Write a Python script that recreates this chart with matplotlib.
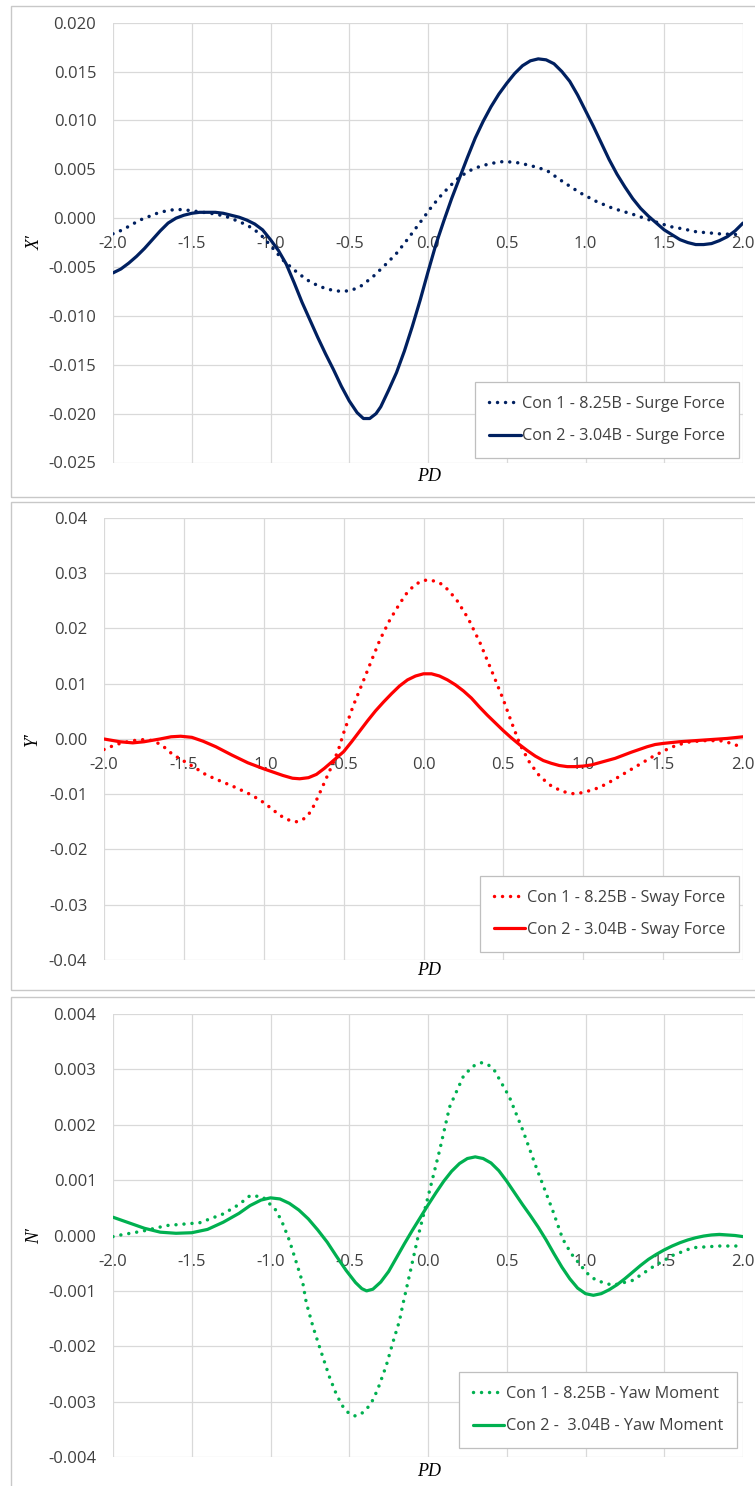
import matplotlib
matplotlib.use("Agg")
import matplotlib.pyplot as plt
from matplotlib.patches import Rectangle
from matplotlib.ticker import FormatStrFormatter

plt.rcParams['font.family'] = ['Open Sans', 'DejaVu Sans']

# ---- data ----
surge1_x = [-2.0, -1.94, -1.83, -1.72, -1.65, -1.59, -1.52, -1.45, -1.34, -1.27, -1.2, -1.15, -1.1,
            -1.05, -1.0, -0.92, -0.85, -0.77, -0.7, -0.65, -0.6, -0.546, -0.49, -0.43, -0.35, -0.26,
            -0.2, -0.146, -0.09, -0.03, 0.02, 0.076, 0.14, 0.203, 0.27, 0.33, 0.4, 0.48, 0.56,
            0.648, 0.753, 0.859, 0.965, 1.07, 1.175, 1.3, 1.41, 1.537, 1.62, 1.705, 1.78, 1.85,
            1.93, 2.0]
surge1_y = [-0.0016, -0.0012, -0.0002, 0.0005, 0.0008, 0.0009, 0.0008, 0.00065, 0.0004, 0.0001,
            -0.00035, -0.0007, -0.0012, -0.0019, -0.0028, -0.0043, -0.0053, -0.0063, -0.0069,
            -0.0072, -0.0074, -0.0075, -0.0074, -0.0070, -0.0060, -0.0046, -0.0036, -0.0025,
            -0.0013, 0.0, 0.0011, 0.0022, 0.0033, 0.00425, 0.0049, 0.0053, 0.0056, 0.0058, 0.0057,
            0.0054, 0.0049, 0.0037, 0.0026, 0.0017, 0.0010, 0.0004, -0.0002, -0.00086, -0.0011,
            -0.0014, -0.0015, -0.0016, -0.00165, -0.0017]
surge2_x = [-2.0, -1.95, -1.9, -1.85, -1.8, -1.75, -1.7, -1.65, -1.6, -1.55, -1.5, -1.45, -1.4, -1.35,
            -1.3, -1.25, -1.2, -1.15, -1.1, -1.05, -1.0, -0.95, -0.9, -0.85, -0.8, -0.75, -0.7,
            -0.65, -0.6, -0.55, -0.5, -0.45, -0.41, -0.37, -0.33, -0.3, -0.25, -0.2, -0.15, -0.1,
            -0.05, 0.0, 0.05, 0.1, 0.15, 0.2, 0.25, 0.3, 0.35, 0.4, 0.45, 0.5, 0.55, 0.6, 0.65, 0.7,
            0.75, 0.8, 0.85, 0.9, 0.95, 1.0, 1.05, 1.1, 1.15, 1.2, 1.25, 1.3, 1.35, 1.4, 1.45, 1.5,
            1.55, 1.6, 1.65, 1.7, 1.75, 1.8, 1.85, 1.9, 1.95, 2.0]
surge2_y = [-0.0056, -0.0052, -0.0046, -0.0039, -0.0031, -0.0022, -0.0013, -0.0005, 0.0, 0.0003,
            0.0005, 0.0006, 0.0006, 0.0006, 0.0005, 0.0003, 0.0001, -0.0002, -0.0006, -0.0012,
            -0.0022, -0.0033, -0.0047, -0.0066, -0.0086, -0.0104, -0.0122, -0.0139, -0.0155,
            -0.0172, -0.0187, -0.0199, -0.0205, -0.0205, -0.0200, -0.0193, -0.0176, -0.0158,
            -0.0136, -0.0111, -0.0084, -0.0055, -0.0027, -0.0003, 0.0020, 0.0041, 0.0062, 0.0082,
            0.0099, 0.0114, 0.0127, 0.0138, 0.0148, 0.0156, 0.0161, 0.0163, 0.0162, 0.0158, 0.0150,
            0.0140, 0.0126, 0.0110, 0.0094, 0.0077, 0.0060, 0.0045, 0.0032, 0.0020, 0.0010, 0.0002,
            -0.0005, -0.0012, -0.0017, -0.0022, -0.0025, -0.0027, -0.0027, -0.0026, -0.0023,
            -0.0019, -0.0013, -0.0005]

sway1_x = [-2.0, -1.95, -1.9, -1.82, -1.75, -1.69, -1.63, -1.57, -1.5, -1.43, -1.36, -1.28, -1.19,
           -1.1, -1.025, -0.96, -0.9, -0.85, -0.8, -0.76, -0.72, -0.685, -0.65, -0.61, -0.565,
           -0.53, -0.5, -0.44, -0.374, -0.32, -0.272, -0.21, -0.147, -0.1, -0.05, 0.0, 0.04, 0.1,
           0.15, 0.207, 0.28, 0.354, 0.43, 0.5, 0.55, 0.604, 0.665, 0.729, 0.8, 0.87, 0.938, 1.0,
           1.1, 1.19, 1.3, 1.44, 1.55, 1.646, 1.75, 1.856, 1.93, 2.0]
sway1_y = [-0.0019, -0.0013, -0.0008, -0.0003, -0.0001, -0.0003, -0.0013, -0.0028, -0.0040,
           -0.0052, -0.0065, -0.0075, -0.0086, -0.0098, -0.0110, -0.0124, -0.0138, -0.0146,
           -0.0150, -0.0147, -0.0137, -0.0120, -0.0098, -0.0072, -0.0043, -0.0017, 0.0011, 0.0060,
           0.0107, 0.0146, 0.0180, 0.0216, 0.0246, 0.0266, 0.0280, 0.0287, 0.0288, 0.0283, 0.0271,
           0.0252, 0.0218, 0.0174, 0.0121, 0.0071, 0.0031, -0.0010, -0.0043, -0.0068, -0.0085,
           -0.0095, -0.0099, -0.0097, -0.0088, -0.0074, -0.0055, -0.0031, -0.0015, -0.0006,
           -0.0003, -0.0003, -0.0008, -0.0016]
sway2_x = [-2.0, -1.9, -1.82, -1.75, -1.65, -1.58, -1.52, -1.45, -1.38, -1.3, -1.2, -1.1, -1.0,
           -0.94, -0.88, -0.82, -0.775, -0.72, -0.67, -0.62, -0.56, -0.5, -0.45, -0.4, -0.35, -0.3,
           -0.25, -0.2, -0.15, -0.1, -0.05, 0.0, 0.05, 0.1, 0.15, 0.2, 0.25, 0.3, 0.35, 0.4, 0.45,
           0.5, 0.55, 0.6, 0.65, 0.7, 0.75, 0.8, 0.85, 0.9, 0.95, 1.0, 1.05, 1.1, 1.15, 1.2, 1.3,
           1.4, 1.45, 1.5, 1.6, 1.7, 1.8, 1.9, 2.0]
sway2_y = [0.0, -0.0005, -0.0007, -0.0005, 0.0, 0.0004, 0.0005, 0.0003, -0.0004, -0.0014, -0.0029,
           -0.0043, -0.0054, -0.0060, -0.0066, -0.0071, -0.0072, -0.0070, -0.0064, -0.0053,
           -0.0038, -0.0023, -0.0005, 0.0014, 0.0033, 0.0051, 0.0067, 0.0082, 0.0096, 0.0107,
           0.0114, 0.0118, 0.0118, 0.0114, 0.0107, 0.0098, 0.0087, 0.0074, 0.0058, 0.0043, 0.0029,
           0.0015, 0.0002, -0.0010, -0.0021, -0.0031, -0.0039, -0.0044, -0.0048, -0.0050, -0.0050,
           -0.0049, -0.0047, -0.0043, -0.0039, -0.0035, -0.0024, -0.0014, -0.0010, -0.0008,
           -0.0005, -0.0003, -0.0001, 0.0001, 0.0004]

yaw1_x = [-2.0, -1.97, -1.81, -1.66, -1.45, -1.3, -1.2, -1.13, -1.05, -0.963, -0.92, -0.88, -0.84,
          -0.794, -0.773, -0.73, -0.688, -0.625, -0.58, -0.54, -0.5, -0.46, -0.42, -0.388, -0.35,
          -0.318, -0.265, -0.223, -0.181, -0.16, -0.11, -0.064, 0.01, 0.074, 0.137, 0.222, 0.28,
          0.338, 0.38, 0.422, 0.517, 0.602, 0.686, 0.792, 0.855, 0.91, 0.961, 1.01, 1.067, 1.173,
          1.3, 1.426, 1.553, 1.68, 1.85, 1.976]
yaw1_y = [-0.00002, 0.0, 0.00008, 0.00018, 0.00023, 0.00039, 0.00056, 0.00072, 0.0007, 0.00045,
          0.0002, -0.00009, -0.00045, -0.00087, -0.00121, -0.00165, -0.00202, -0.00256, -0.00288,
          -0.00309, -0.00322, -0.00326, -0.00321, -0.00313, -0.00297, -0.00277, -0.00235,
          -0.00193, -0.00154, -0.00125, -0.00062, -0.00003, 0.00081, 0.00154, 0.00232, 0.00286,
          0.00305, 0.00312, 0.00309, 0.00298, 0.0025, 0.0019, 0.00124, 0.00045, -0.00006,
          -0.00033, -0.00051, -0.00068, -0.00081, -0.0009, -0.00081, -0.00057, -0.00036,
          -0.00022, -0.00019, -0.00019]
yaw2_x = [-2.0, -1.9, -1.8, -1.7, -1.6, -1.5, -1.4, -1.3, -1.2, -1.13, -1.06, -1.0, -0.94, -0.88,
          -0.82, -0.76, -0.7, -0.64, -0.58, -0.52, -0.46, -0.42, -0.39, -0.35, -0.3, -0.25, -0.2,
          -0.15, -0.1, -0.05, 0.0, 0.05, 0.1, 0.15, 0.2, 0.25, 0.3, 0.35, 0.4, 0.45, 0.5, 0.55, 0.6,
          0.65, 0.7, 0.75, 0.8, 0.85, 0.9, 0.95, 1.0, 1.05, 1.1, 1.15, 1.2, 1.25, 1.3, 1.35, 1.4,
          1.45, 1.5, 1.55, 1.6, 1.65, 1.7, 1.75, 1.8, 1.85, 1.9, 1.95, 2.0]
yaw2_y = [0.00033, 0.00023, 0.00013, 0.00006, 0.00004, 0.00005, 0.00011, 0.00024, 0.0004, 0.00054,
          0.00064, 0.00068, 0.00066, 0.00058, 0.00046, 0.0003, 0.0001, -0.00012, -0.00038,
          -0.00063, -0.00085, -0.00096, -0.001, -0.00097, -0.00084, -0.00065, -0.0004, -0.00015,
          0.00009, 0.00032, 0.00055, 0.00077, 0.00098, 0.00116, 0.0013, 0.00139, 0.00142, 0.00139,
          0.00131, 0.00117, 0.00098, 0.00077, 0.00056, 0.00036, 0.00015, -0.00008, -0.00033,
          -0.00057, -0.00078, -0.00095, -0.00105, -0.00108, -0.00105, -0.00098, -0.00089,
          -0.00078, -0.00066, -0.00054, -0.00043, -0.00034, -0.00026, -0.00019, -0.00013,
          -0.00008, -0.00004, -0.00001, 0.00001, 0.00002, 0.00001, 0.0, -0.00002]

x_ticks = [-2.0, -1.5, -1.0, -0.5, 0.0, 0.5, 1.0, 1.5, 2.0]

W, H = 755, 1486
fig = plt.figure(figsize=(W / 100, H / 100), dpi=100)


def px_rect(x0, y0, x1, y1):
    # pixel box (top-left origin) -> figure fraction [l, b, w, h]
    return [x0 / W, 1 - y1 / H, (x1 - x0) / W, (y1 - y0) / H]


# chart area frames
for y0, y1 in [(6, 497), (502, 990), (997, 1490)]:
    l, b, w, h = px_rect(11, y0, 760, y1)
    fig.add_artist(Rectangle((l, b), w, h, transform=fig.transFigure, fill=False,
                             edgecolor='#c8c8c8', lw=1.0))

panels = [
    dict(box=(113, 22.7, 743, 462.5), ylim=(-0.025, 0.020), step=0.005, fmt='%.3f', ylab="X\u2032",
         color='#002060', series=[(surge1_x, surge1_y, ':'), (surge2_x, surge2_y, '-')],
         labels=['Con 1 - 8.25B - Surge Force', 'Con 2 - 3.04B - Surge Force'],
         leg=(472, 383, 739, 458)),
    dict(box=(104, 518, 743, 960), ylim=(-0.04, 0.04), step=0.01, fmt='%.2f', ylab="Y\u2032",
         color='#ff0000', series=[(sway1_x, sway1_y, ':'), (sway2_x, sway2_y, '-')],
         labels=['Con 1 - 8.25B - Sway Force', 'Con 2 - 3.04B - Sway Force'],
         leg=(472, 877, 739, 952)),
    dict(box=(113, 1014, 743, 1457), ylim=(-0.004, 0.004), step=0.001, fmt='%.3f', ylab="N\u2032",
         color='#00b050', series=[(yaw1_x, yaw1_y, ':'), (yaw2_x, yaw2_y, '-')],
         labels=['Con 1 - 8.25B - Yaw Moment', 'Con 2 -  3.04B - Yaw Moment'],
         leg=(469, 1368, 737, 1448)),
]

for p in panels:
    x0, y0, x1, y1 = p['box']
    ax = fig.add_axes(px_rect(x0, y0, x1, y1))
    lo, hi = p['ylim']
    n = int(round((hi - lo) / p['step']))
    ax.set_xlim(-2.0, 2.0)
    ax.set_ylim(lo, hi)
    ax.set_xticks(x_ticks)
    ax.set_yticks([lo + i * p['step'] for i in range(n + 1)])
    ax.yaxis.set_major_formatter(FormatStrFormatter(p['fmt']))
    ax.xaxis.set_major_formatter(FormatStrFormatter('%.1f'))
    ax.grid(True, color='#d9d9d9', lw=0.9)
    ax.set_axisbelow(True)
    for s in ax.spines.values():
        s.set_visible(False)
    ax.spines['bottom'].set_position(('data', 0))
    ax.tick_params(axis='both', length=0, labelsize=12, labelcolor='#404040')
    ax.tick_params(axis='x', pad=13)
    ax.tick_params(axis='y', pad=12)

    handles = []
    for (xs, ys, ls) in p['series']:
        if ls == ':':
            h, = ax.plot(xs, ys, color=p['color'], lw=2.5, linestyle=(0, (0.01, 2.3)),
                         dash_capstyle='round')
        else:
            h, = ax.plot(xs, ys, color=p['color'], lw=2.3, solid_capstyle='round',
                         solid_joinstyle='round')
        handles.append(h)

    ax.text(-0.124 if x0 > 110 else -0.112, 0.5, p['ylab'], transform=ax.transAxes, rotation=90,
            ha='center', va='center', fontsize=13, style='italic', family='Liberation Serif')
    ax.text((429 - x0) / (x1 - x0), -(14 if x0 > 110 else 11) / (y1 - y0), 'PD',
            transform=ax.transAxes, ha='center', va='center', fontsize=13, style='italic',
            family='Liberation Serif')

    lx0, ly0, lx1, ly1 = p['leg']
    leg = ax.legend(handles, p['labels'], loc='lower right',
                    bbox_to_anchor=((lx1 - x0) / (x1 - x0), (y1 - ly1) / (y1 - y0)),
                    borderaxespad=0, fontsize=11.7, frameon=True, fancybox=False,
                    edgecolor='#bfbfbf', framealpha=1, labelspacing=1.0, handlelength=1.95,
                    handletextpad=0.1, borderpad=0.85)
    leg.get_frame().set_linewidth(0.9)
    for t in leg.get_texts():
        t.set_color('#404040')

fig.savefig('out.png', dpi=100)
